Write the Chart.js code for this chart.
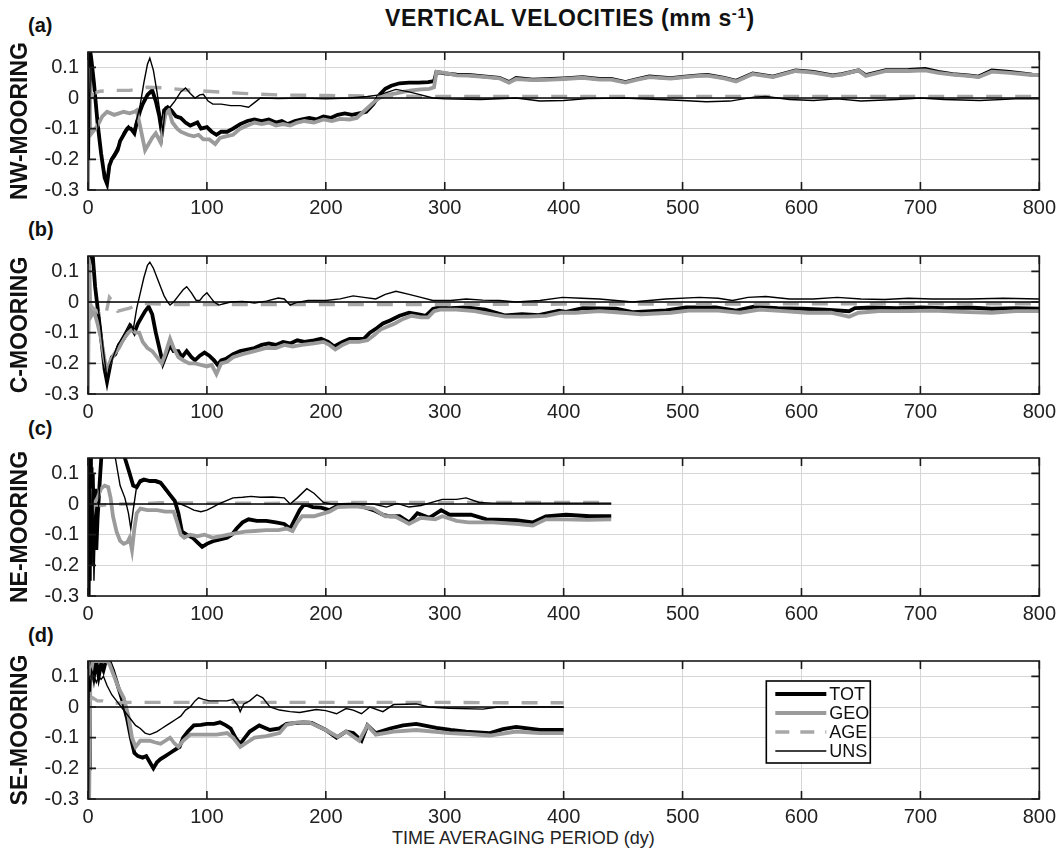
<!DOCTYPE html>
<html>
<head>
<meta charset="utf-8">
<script src="https://cdn.jsdelivr.net/npm/chart.js@4.4.1/dist/chart.umd.min.js"></script>
<style>
  html, body { margin: 0; padding: 0; background: #fff; }
  body { width: 1062px; height: 851px; position: relative; overflow: hidden; font-family: "Liberation Sans", Arial, sans-serif; color: #111; }
  canvas { position: absolute; left: 0; }
  .lbl { position: absolute; font-weight: bold; font-size: 20px; line-height: 20px; white-space: nowrap; }
  #title { position: absolute; left: 385px; top: 5px; font-weight: bold; font-size: 23px; letter-spacing: 0.6px; white-space: nowrap; }
  #title sup { font-size: 15px; vertical-align: 8px; line-height: 0; }
  #xtitle { position: absolute; left: 392px; top: 828px; font-size: 18px; white-space: nowrap; color: #222; }
</style>
</head>
<body>
<div id="title">VERTICAL VELOCITIES (mm s<sup>-1</sup>)</div>
<div class="lbl" style="left:28px; top:15px;">(a)</div>
<div class="lbl" style="left:28px; top:219px;">(b)</div>
<div class="lbl" style="left:28px; top:418px;">(c)</div>
<div class="lbl" style="left:28px; top:625px;">(d)</div>
<div id="xtitle">TIME AVERAGING PERIOD (dy)</div>
<canvas id="c0" width="1062" height="189"></canvas>
<canvas id="c1" width="1062" height="189"></canvas>
<canvas id="c2" width="1062" height="189"></canvas>
<canvas id="c3" width="1062" height="189"></canvas>
<script>
// ---------- axis ticks ----------
const xTickValues = [0, 100, 200, 300, 400, 500, 600, 700, 800];
const yTickValues = [-0.3, -0.2, -0.1, 0, 0.1];
const seriesLabels = ['TOT', 'GEO', 'AGE', 'UNS'];
const panelNames = ['NW-MOORING', 'C-MOORING', 'NE-MOORING', 'SE-MOORING'];

// ---------- (a) NW-MOORING ----------
const nwTOT = [[0,0.15],[1,-0.05],[2,0.15],[3,0.12],[5,0.05],[8,-0.08],[11,-0.18],[14,-0.26],[16,-0.28],[18,-0.22],[20,-0.2],[22,-0.19],[25,-0.17],[27,-0.14],[30,-0.12],[33,-0.1],[36,-0.1],[39,-0.115],[41,-0.08],[44,-0.04],[46,-0.02],[50,0.01],[54,0.025],[57,-0.01],[60,-0.06],[62,-0.11],[64,-0.04],[67,-0.03],[70,-0.04],[74,-0.06],[78,-0.065],[82,-0.08],[86,-0.09],[89,-0.085],[92,-0.08],[95,-0.1],[100,-0.095],[104,-0.11],[108,-0.12],[112,-0.11],[117,-0.11],[122,-0.1],[128,-0.085],[134,-0.075],[140,-0.07],[146,-0.075],[152,-0.07],[158,-0.08],[163,-0.075],[168,-0.085],[174,-0.075],[180,-0.07],[186,-0.065],[192,-0.07],[198,-0.06],[204,-0.065],[210,-0.055],[216,-0.05],[222,-0.055],[228,-0.05],[234,-0.045],[240,-0.02],[245,0.01],[250,0.03],[255,0.04],[262,0.048],[270,0.05],[278,0.05],[286,0.052],[291,0.055],[293,0.085],[300,0.08],[310,0.076],[320,0.075],[335,0.07],[346,0.066],[354,0.052],[360,0.065],[374,0.06],[390,0.062],[400,0.064],[416,0.068],[430,0.062],[440,0.062],[452,0.052],[462,0.062],[472,0.07],[490,0.065],[502,0.07],[514,0.074],[521,0.075],[535,0.066],[545,0.056],[559,0.08],[576,0.07],[595,0.09],[610,0.085],[626,0.074],[634,0.078],[648,0.09],[654,0.075],[671,0.091],[690,0.092],[704,0.095],[715,0.085],[727,0.078],[740,0.074],[749,0.07],[760,0.09],[775,0.085],[794,0.076],[800,0.075]];
const nwGEO = [[0,-0.3],[1,0.1],[2,-0.12],[4,-0.11],[8,-0.09],[12,-0.06],[16,-0.045],[22,-0.055],[26,-0.05],[30,-0.045],[35,-0.05],[39,-0.045],[41,-0.04],[44,-0.095],[48,-0.17],[51,-0.15],[54,-0.13],[57,-0.115],[61,-0.145],[65,-0.055],[68,-0.04],[71,-0.08],[75,-0.1],[78,-0.11],[84,-0.12],[89,-0.125],[93,-0.12],[97,-0.135],[102,-0.135],[107,-0.15],[111,-0.13],[116,-0.125],[122,-0.12],[128,-0.1],[134,-0.09],[140,-0.08],[146,-0.085],[152,-0.08],[158,-0.09],[164,-0.085],[170,-0.09],[176,-0.08],[182,-0.075],[190,-0.08],[198,-0.07],[205,-0.075],[212,-0.068],[220,-0.07],[226,-0.065],[233,-0.04],[240,-0.015],[245,0.0],[252,0.01],[259,0.015],[265,0.02],[272,0.025],[280,0.028],[287,0.03],[291,0.035],[293,0.085],[300,0.082],[310,0.074],[320,0.073],[335,0.068],[346,0.064],[354,0.05],[360,0.062],[374,0.058],[390,0.06],[400,0.062],[416,0.066],[430,0.06],[440,0.06],[452,0.05],[462,0.06],[472,0.068],[490,0.063],[502,0.068],[514,0.072],[521,0.073],[535,0.064],[545,0.054],[559,0.078],[576,0.068],[595,0.088],[610,0.083],[626,0.072],[634,0.076],[648,0.09],[654,0.072],[671,0.088],[690,0.088],[704,0.09],[715,0.082],[727,0.076],[740,0.072],[749,0.068],[760,0.086],[775,0.082],[794,0.075],[800,0.075]];
const nwAGE = [[2,0.0],[5,0.015],[10,0.022],[20,0.025],[35,0.025],[50,0.035],[65,0.033],[80,0.027],[100,0.022],[130,0.015],[160,0.01],[200,0.008],[250,0.006],[300,0.005],[400,0.005],[500,0.005],[600,0.005],[700,0.005],[800,0.005]];
const nwUNS = [[0,0.15],[1,-0.2],[2,0.15],[4,0.1],[7,-0.05],[10,-0.15],[13,-0.23],[16,-0.26],[19,-0.2],[22,-0.18],[26,-0.15],[30,-0.11],[34,-0.09],[38,-0.11],[41,-0.07],[44,-0.02],[47,0.05],[50,0.11],[52,0.13],[55,0.09],[58,0.02],[61,-0.06],[63,-0.11],[65,-0.03],[69,-0.03],[73,-0.01],[78,0.02],[82,0.033],[86,0.015],[90,0.0],[94,0.01],[97,0.012],[101,-0.01],[105,-0.02],[112,-0.02],[120,-0.025],[128,-0.025],[135,-0.03],[140,-0.015],[145,0.0],[160,-0.002],[180,0.0],[200,-0.003],[220,0.0],[235,0.005],[245,0.01],[259,0.028],[270,0.02],[280,0.01],[290,0.0],[300,-0.003],[330,-0.005],[360,0.0],[380,-0.01],[400,-0.008],[420,-0.002],[450,0.0],[480,-0.005],[500,-0.008],[520,-0.012],[540,-0.01],[560,0.003],[570,0.005],[590,-0.005],[610,-0.008],[630,-0.003],[650,-0.01],[680,-0.005],[700,0.0],[720,-0.005],[750,-0.008],[780,-0.003],[800,-0.003]];
const nwZero = [[0,0],[800,0]];

// ---------- (b) C-MOORING ----------
const cTOT = [[0,0.15],[2,0.15],[4,0.15],[6,0.05],[9,-0.05],[12,-0.15],[14,-0.22],[16,-0.26],[18,-0.22],[20,-0.18],[23,-0.17],[26,-0.14],[30,-0.12],[33,-0.1],[36,-0.08],[39,-0.1],[42,-0.07],[45,-0.05],[48,-0.03],[51,-0.015],[54,-0.04],[57,-0.1],[60,-0.15],[63,-0.2],[66,-0.17],[69,-0.14],[72,-0.16],[76,-0.16],[79,-0.18],[83,-0.16],[87,-0.18],[90,-0.19],[94,-0.175],[98,-0.165],[102,-0.175],[106,-0.19],[109,-0.205],[112,-0.19],[116,-0.185],[122,-0.17],[128,-0.16],[134,-0.155],[140,-0.15],[146,-0.14],[152,-0.135],[158,-0.14],[164,-0.13],[170,-0.135],[176,-0.125],[182,-0.13],[190,-0.125],[196,-0.12],[202,-0.13],[207,-0.145],[214,-0.13],[220,-0.12],[226,-0.12],[232,-0.12],[237,-0.1],[243,-0.085],[248,-0.07],[254,-0.06],[262,-0.045],[270,-0.035],[278,-0.04],[284,-0.045],[290,-0.023],[295,-0.018],[305,-0.02],[318,-0.018],[334,-0.025],[351,-0.044],[365,-0.04],[379,-0.043],[396,-0.028],[402,-0.032],[416,-0.02],[444,-0.022],[458,-0.033],[486,-0.027],[503,-0.018],[528,-0.018],[545,-0.028],[560,-0.015],[580,-0.02],[600,-0.022],[620,-0.025],[640,-0.03],[645,-0.02],[660,-0.018],[680,-0.02],[700,-0.018],[720,-0.02],[740,-0.018],[760,-0.022],[780,-0.02],[800,-0.022]];
const cGEO = [[0,-0.3],[1,0.15],[2,-0.05],[5,-0.03],[8,-0.07],[11,-0.12],[14,-0.19],[16,-0.22],[19,-0.19],[22,-0.17],[26,-0.15],[30,-0.12],[34,-0.1],[37,-0.09],[40,-0.1],[43,-0.1],[46,-0.13],[50,-0.15],[54,-0.16],[58,-0.18],[62,-0.2],[65,-0.17],[69,-0.12],[72,-0.15],[76,-0.18],[80,-0.19],[85,-0.2],[90,-0.2],[95,-0.205],[100,-0.21],[104,-0.205],[108,-0.235],[112,-0.2],[117,-0.195],[122,-0.18],[130,-0.17],[140,-0.16],[150,-0.15],[158,-0.15],[165,-0.14],[172,-0.145],[180,-0.14],[190,-0.135],[198,-0.13],[203,-0.14],[208,-0.155],[214,-0.14],[220,-0.13],[228,-0.13],[235,-0.125],[240,-0.11],[246,-0.09],[252,-0.08],[258,-0.07],[265,-0.055],[272,-0.045],[280,-0.05],[286,-0.05],[291,-0.03],[296,-0.025],[310,-0.025],[325,-0.03],[340,-0.04],[351,-0.048],[370,-0.048],[385,-0.045],[398,-0.035],[410,-0.035],[430,-0.03],[450,-0.035],[465,-0.04],[490,-0.035],[505,-0.028],[530,-0.028],[548,-0.035],[565,-0.025],[585,-0.03],[605,-0.035],[625,-0.035],[640,-0.048],[648,-0.035],[665,-0.03],[690,-0.03],[710,-0.028],[735,-0.032],[760,-0.035],[780,-0.03],[800,-0.03]];
const cAGE = [[1,0.0],[4,-0.02],[8,-0.03],[12,-0.05],[15,-0.04],[18,0.015],[21,0.0],[25,-0.03],[30,-0.025],[35,-0.02],[40,-0.012],[45,-0.005],[55,-0.006],[70,-0.008],[100,-0.008],[150,-0.008],[200,-0.008],[250,-0.008],[300,-0.008],[400,-0.007],[500,-0.007],[600,-0.006],[700,-0.006],[800,-0.006]];
const cUNS = [[0,0.15],[2,0.15],[4,0.12],[7,0.02],[10,-0.06],[13,-0.16],[16,-0.25],[18,-0.21],[21,-0.18],[25,-0.14],[28,-0.12],[31,-0.1],[35,-0.07],[38,-0.09],[41,-0.02],[44,0.03],[47,0.08],[50,0.12],[52,0.13],[55,0.11],[58,0.08],[61,0.05],[64,0.02],[67,0.0],[69,-0.01],[72,0.0],[76,0.02],[80,0.04],[83,0.05],[87,0.03],[91,0.005],[94,0.005],[97,0.02],[100,0.03],[103,0.015],[106,0.0],[110,-0.01],[115,-0.005],[120,0.0],[130,0.002],[140,-0.003],[150,0.003],[160,0.013],[165,0.01],[170,-0.01],[175,-0.002],[185,0.005],[200,0.005],[212,0.01],[223,0.02],[232,0.015],[242,0.01],[250,0.025],[259,0.035],[270,0.025],[280,0.015],[290,0.005],[305,0.005],[318,0.01],[332,0.006],[346,0.005],[360,0.0],[380,0.005],[399,0.015],[415,0.012],[430,0.01],[458,0.0],[486,0.01],[514,0.015],[530,0.012],[542,0.005],[555,0.015],[570,0.018],[590,0.01],[610,0.01],[630,0.015],[650,0.01],[670,0.008],[690,0.012],[710,0.01],[740,0.01],[770,0.012],[800,0.01]];
const cZero = [[0,0],[800,0]];

// ---------- (c) NE-MOORING ----------
const neTOT = [[0,0.15],[0.5,-0.3],[1,0.15],[1.5,-0.25],[2,0.15],[2.5,-0.2],[3,0.12],[3.5,-0.15],[4,0.1],[5,-0.1],[6,0.05],[7,-0.15],[8,-0.05],[10,0.08],[12,0.2],[20,0.25],[28,0.18],[31,0.15],[35,0.1],[38,0.06],[41,0.055],[44,0.075],[47,0.08],[52,0.075],[57,0.075],[61,0.07],[65,0.05],[69,0.03],[73,0.01],[76,-0.03],[79,-0.09],[83,-0.1],[88,-0.11],[92,-0.125],[96,-0.14],[100,-0.13],[106,-0.12],[112,-0.115],[117,-0.11],[121,-0.1],[125,-0.08],[130,-0.06],[135,-0.05],[142,-0.055],[150,-0.055],[158,-0.06],[165,-0.065],[170,-0.08],[174,-0.05],[178,-0.02],[182,0.0],[189,-0.01],[196,-0.012],[203,-0.02],[210,-0.005],[220,-0.005],[228,-0.005],[240,-0.02],[248,-0.035],[254,-0.04],[262,-0.04],[270,-0.06],[277,-0.03],[287,-0.045],[297,-0.02],[304,-0.035],[322,-0.035],[335,-0.05],[360,-0.053],[374,-0.06],[385,-0.04],[402,-0.035],[422,-0.04],[440,-0.04]];
const neGEO = [[0,0.0],[1,-0.1],[2,0.05],[3,-0.05],[5,0.0],[8,0.02],[11,0.05],[14,0.06],[17,0.055],[19,0.02],[21,-0.04],[24,-0.09],[27,-0.12],[30,-0.13],[33,-0.125],[35,-0.11],[37,-0.15],[39,-0.08],[41,-0.03],[44,-0.015],[50,-0.02],[58,-0.02],[65,-0.025],[72,-0.025],[75,-0.06],[78,-0.1],[81,-0.11],[86,-0.1],[92,-0.105],[98,-0.1],[105,-0.11],[112,-0.105],[118,-0.1],[125,-0.095],[132,-0.09],[140,-0.088],[150,-0.085],[160,-0.085],[167,-0.08],[172,-0.088],[176,-0.06],[180,-0.04],[190,-0.04],[203,-0.025],[210,-0.01],[225,-0.008],[240,-0.015],[250,-0.04],[258,-0.04],[270,-0.065],[280,-0.045],[292,-0.05],[298,-0.04],[310,-0.055],[320,-0.06],[340,-0.06],[360,-0.065],[374,-0.07],[385,-0.05],[400,-0.05],[420,-0.052],[440,-0.05]];
const neAGE = [[2,0.0],[10,-0.005],[20,0.0],[40,0.0],[60,0.004],[100,0.003],[150,0.002],[200,0.005],[250,0.005],[300,0.005],[350,0.005],[400,0.005],[440,0.005]];
const neUNS = [[0,-0.3],[0.7,0.15],[1.2,-0.3],[2,0.15],[3,-0.2],[4,0.1],[5,-0.25],[6,-0.1],[7,-0.15],[9,0.0],[11,0.15],[14,0.25],[18,0.25],[21,0.18],[23,0.15],[27,0.06],[31,0.02],[34,-0.03],[36,-0.08],[38,-0.02],[41,0.06],[44,0.07],[47,0.075],[52,0.075],[57,0.07],[61,0.065],[65,0.045],[69,0.025],[73,0.005],[78,0.0],[84,-0.01],[89,-0.02],[95,-0.025],[100,-0.02],[105,-0.01],[110,0.0],[116,0.01],[122,0.02],[130,0.022],[137,0.025],[145,0.022],[155,0.023],[165,0.02],[170,0.0],[176,0.02],[184,0.05],[190,0.035],[198,0.005],[205,0.0],[220,0.002],[240,0.0],[251,-0.01],[260,0.002],[270,-0.01],[280,-0.005],[298,0.015],[310,0.015],[318,0.02],[329,0.005],[340,0.003],[360,0.003],[400,0.003],[440,0.003]];
const neZero = [[0,0],[440,0]];

// ---------- (d) SE-MOORING ----------
const seTOT = [[0,-0.3],[0.5,0.15],[1,-0.2],[1.5,0.15],[2,0.08],[3,0.15],[5,0.1],[7,0.15],[9,0.1],[11,0.14],[13,0.12],[15,0.15],[18,0.15],[21,0.12],[25,0.07],[29,0.02],[33,-0.04],[36,-0.1],[39,-0.15],[42,-0.16],[46,-0.165],[49,-0.16],[52,-0.18],[55,-0.2],[58,-0.18],[61,-0.17],[65,-0.16],[69,-0.15],[73,-0.14],[77,-0.13],[80,-0.1],[84,-0.08],[89,-0.06],[95,-0.058],[100,-0.055],[106,-0.055],[111,-0.05],[116,-0.06],[120,-0.07],[124,-0.1],[128,-0.12],[132,-0.1],[136,-0.08],[144,-0.06],[153,-0.075],[161,-0.07],[167,-0.055],[181,-0.05],[188,-0.052],[200,-0.075],[209,-0.1],[217,-0.08],[223,-0.085],[230,-0.11],[235,-0.06],[242,-0.085],[254,-0.07],[265,-0.06],[276,-0.055],[293,-0.068],[305,-0.075],[318,-0.08],[338,-0.085],[349,-0.072],[360,-0.065],[380,-0.075],[400,-0.075]];
const seGEO = [[0,0.15],[1,-0.3],[2,0.1],[4,0.15],[8,0.15],[12,0.15],[16,0.15],[18,0.14],[22,0.1],[26,0.06],[30,0.03],[34,-0.03],[37,-0.1],[40,-0.13],[44,-0.11],[48,-0.11],[52,-0.11],[56,-0.115],[61,-0.12],[65,-0.11],[69,-0.1],[73,-0.12],[76,-0.13],[80,-0.11],[86,-0.09],[93,-0.09],[100,-0.09],[108,-0.09],[117,-0.085],[122,-0.1],[128,-0.13],[134,-0.115],[140,-0.1],[150,-0.095],[161,-0.085],[167,-0.058],[176,-0.05],[186,-0.05],[200,-0.075],[210,-0.097],[217,-0.08],[228,-0.11],[235,-0.06],[242,-0.09],[257,-0.08],[276,-0.075],[304,-0.085],[320,-0.088],[338,-0.093],[360,-0.08],[380,-0.085],[400,-0.085]];
const seAGE = [[1,0.02],[4,0.03],[8,0.02],[12,0.02],[20,0.01],[30,0.015],[50,0.015],[80,0.015],[120,0.015],[160,0.015],[200,0.015],[250,0.015],[300,0.015],[350,0.014],[400,0.014]];
const seUNS = [[0,0.15],[0.5,-0.3],[1,0.1],[2,0.05],[3,0.12],[5,0.1],[7,0.08],[9,0.1],[11,0.09],[13,0.1],[16,0.07],[20,0.04],[24,0.02],[28,0.0],[32,-0.02],[36,-0.04],[40,-0.06],[44,-0.07],[48,-0.085],[52,-0.09],[55,-0.085],[58,-0.08],[62,-0.07],[66,-0.06],[70,-0.05],[74,-0.04],[78,-0.03],[82,-0.01],[86,0.0],[90,0.02],[93,0.03],[97,0.025],[102,0.02],[110,0.02],[117,0.02],[122,0.025],[126,0.005],[128,-0.015],[131,0.01],[136,0.02],[142,0.04],[147,0.03],[153,0.0],[161,-0.01],[170,-0.015],[178,-0.018],[192,-0.008],[200,-0.012],[209,-0.022],[217,-0.005],[223,-0.01],[230,-0.022],[237,0.0],[248,-0.015],[257,0.008],[276,0.01],[287,0.0],[304,-0.004],[332,-0.007],[345,0.0],[360,0.0],[400,0.0]];
const seZero = [[0,0],[400,0]];

// ---------- build ----------
const panels = [
  { name: panelNames[0], series: [nwTOT, nwGEO, nwAGE, nwUNS], zero: nwZero, top: 43 },
  { name: panelNames[1], series: [cTOT, cGEO, cAGE, cUNS], zero: cZero, top: 247 },
  { name: panelNames[2], series: [neTOT, neGEO, neAGE, neUNS], zero: neZero, top: 449 },
  { name: panelNames[3], series: [seTOT, seGEO, seAGE, seUNS], zero: seZero, top: 652, legend: true }
];

const styles = [
  { borderColor: '#000000', borderWidth: 3.8, borderDash: [], order: 4 },
  { borderColor: '#9b9b9b', borderWidth: 3.8, borderDash: [], order: 3 },
  { borderColor: '#a8a8a8', borderWidth: 3.4, borderDash: [16, 13], order: 2 },
  { borderColor: '#000000', borderWidth: 1.4, borderDash: [], order: 0 }
];

const toXY = arr => arr.map(([x, y]) => ({ x, y }));

const boxPlugin = {
  id: 'matlabBox',
  afterDatasetsDraw(chart) {
    const { ctx, chartArea: a, scales: { x, y } } = chart;
    ctx.save();
    ctx.strokeStyle = '#1a1a1a';
    ctx.lineWidth = 1.6;
    ctx.strokeRect(a.left, a.top, a.right - a.left, a.bottom - a.top);
    ctx.beginPath();
    x.ticks.forEach(t => {
      const px = x.getPixelForValue(t.value);
      ctx.moveTo(px, a.bottom); ctx.lineTo(px, a.bottom - 8);
      ctx.moveTo(px, a.top); ctx.lineTo(px, a.top + 8);
    });
    y.ticks.forEach(t => {
      const py = y.getPixelForValue(t.value);
      ctx.moveTo(a.left, py); ctx.lineTo(a.left + 8, py);
      ctx.moveTo(a.right, py); ctx.lineTo(a.right - 8, py);
    });
    ctx.stroke();
    ctx.restore();
  }
};

const legendPlugin = {
  id: 'boxLegend',
  afterDraw(chart) {
    if (!chart.options.plugins.boxLegend || !chart.options.plugins.boxLegend.show) return;
    const { ctx, chartArea: a } = chart;
    const bx = a.right - 273, by = a.top + 20, bw = 104, bh = 82;
    ctx.save();
    ctx.fillStyle = '#fff';
    ctx.fillRect(bx, by, bw, bh);
    ctx.strokeStyle = '#000';
    ctx.lineWidth = 1.6;
    ctx.strokeRect(bx, by, bw, bh);
    const items = chart.data.datasets.filter(d => d.label);
    items.forEach((d, i) => {
      const yy = by + 13 + i * 19;
      ctx.beginPath();
      ctx.strokeStyle = d.borderColor;
      ctx.lineWidth = d.borderWidth;
      ctx.setLineDash(d.borderDash && d.borderDash.length ? [14, 11] : []);
      ctx.moveTo(bx + 9, yy); ctx.lineTo(bx + 60, yy);
      ctx.stroke();
      ctx.setLineDash([]);
      ctx.fillStyle = '#111';
      ctx.font = '18px "Liberation Sans Narrow", "Liberation Sans", Arial, sans-serif';
      ctx.textBaseline = 'middle';
      ctx.textAlign = 'left';
      ctx.fillText(d.label, bx + 63, yy + 1);
    });
    ctx.restore();
  }
};

panels.forEach((p, i) => {
  const canvas = document.getElementById('c' + i);
  canvas.style.top = (p.top - 12) + 'px';
  const datasets = p.series.map((s, k) => ({
    label: seriesLabels[k],
    data: toXY(s),
    borderColor: styles[k].borderColor,
    borderWidth: styles[k].borderWidth,
    borderDash: styles[k].borderDash,
    order: styles[k].order,
    pointRadius: 0,
    tension: 0,
    fill: false,
    clip: 0
  }));
  datasets.push({
    label: '',
    data: toXY(p.zero),
    borderColor: '#000',
    borderWidth: 1.4,
    order: 1,
    pointRadius: 0,
    fill: false,
    clip: 0
  });
  new Chart(canvas, {
    type: 'line',
    data: { datasets },
    plugins: [boxPlugin, legendPlugin],
    options: {
      responsive: false,
      animation: false,
      events: [],
      layout: { padding: { top: 12, right: 21, left: 0, bottom: 0 } },
      plugins: {
        legend: { display: false },
        tooltip: { enabled: false },
        boxLegend: { show: !!p.legend }
      },
      scales: {
        x: {
          type: 'linear',
          min: 0, max: 800,
          afterBuildTicks: s => { s.ticks = xTickValues.map(v => ({ value: v })); },
          afterFit: s => { s.height = 30; },
          ticks: {
            padding: 6,
            color: '#222',
            font: { family: '"Liberation Sans", Arial, sans-serif', size: 20 },
            maxRotation: 0,
            callback: v => String(v)
          },
          grid: { color: '#d6d6d6', lineWidth: 1, drawTicks: false },
          border: { display: false }
        },
        y: {
          type: 'linear',
          min: -0.3, max: 0.15,
          afterBuildTicks: s => { s.ticks = yTickValues.map(v => ({ value: v })); },
          afterFit: s => { s.width = 88; },
          ticks: {
            padding: 9,
            color: '#222',
            font: { family: '"Liberation Sans", Arial, sans-serif', size: 20 },
            callback: v => (Math.abs(v) < 1e-9 ? '0' : Number(v).toFixed(1))
          },
          grid: { color: '#d6d6d6', lineWidth: 1, drawTicks: false },
          border: { display: false },
          title: {
            display: true,
            text: p.name,
            color: '#111',
            font: { family: '"Liberation Sans", Arial, sans-serif', size: 23, weight: 'bold' },
            padding: { top: 7, bottom: 0 }
          }
        }
      }
    }
  });
});
</script>
</body>
</html>
